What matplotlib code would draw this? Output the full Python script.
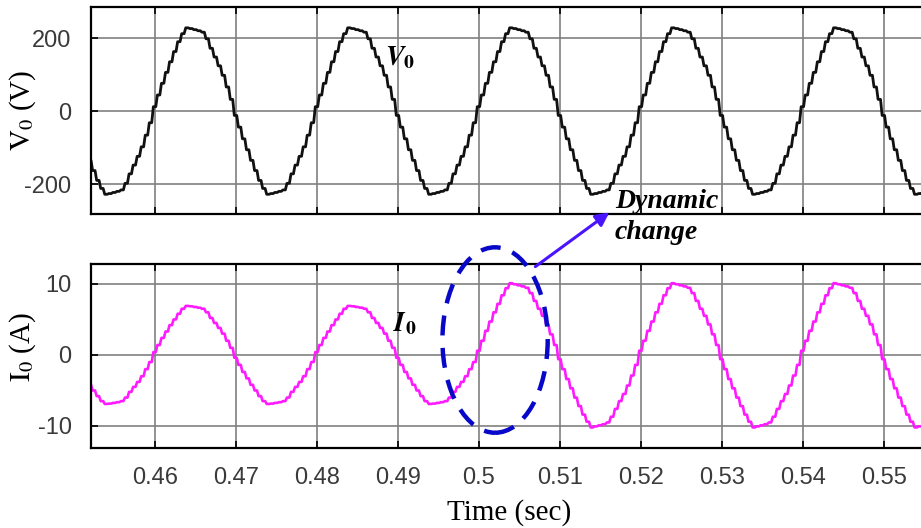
import matplotlib.pyplot as plt
import numpy as np
from matplotlib.patches import Ellipse

plt.rcParams['axes.unicode_minus'] = False
plt.rcParams['mathtext.fontset'] = 'stix'

# one period of the waveforms, sampled every 0.5 ms from the rising zero crossing
cycle_ms = [0.0, 0.5, 1.0, 1.5, 2.0, 2.5, 3.0, 3.5, 4.0, 4.5,
            5.0, 5.5, 6.0, 6.5, 7.0, 7.5, 8.0, 8.5, 9.0, 9.5,
            10.0, 10.5, 11.0, 11.5, 12.0, 12.5, 13.0, 13.5, 14.0, 14.5,
            15.0, 15.5, 16.0, 16.5, 17.0, 17.5, 18.0, 18.5, 19.0, 19.5]
v_cycle = [12, 44, 76, 106, 135, 163, 190, 212, 228, 226,
           223, 220, 216, 198, 172, 148, 124, 98, 66, 32,
           -12, -44, -76, -106, -135, -163, -190, -212, -228, -226,
           -223, -220, -216, -198, -172, -148, -124, -98, -66, -32]
i_cycle_low = [0.4, 1.4, 2.4, 3.3, 4.2, 5.0, 5.8, 6.5, 6.9, 6.85,
               6.75, 6.65, 6.5, 6.0, 5.2, 4.5, 3.8, 3.0, 2.0, 1.0,
               -0.4, -1.4, -2.4, -3.3, -4.2, -5.0, -5.8, -6.5, -6.9, -6.85,
               -6.75, -6.65, -6.5, -6.0, -5.2, -4.5, -3.8, -3.0, -2.0, -1.0]
i_cycle_high = [0.6, 2.0, 3.4, 4.7, 6.0, 7.2, 8.4, 9.4, 10.1, 9.95,
                9.8, 9.65, 9.45, 8.7, 7.6, 6.5, 5.5, 4.3, 2.9, 1.4,
                -0.6, -2.0, -3.4, -4.7, -6.0, -7.2, -8.4, -9.4, -10.2, -10.05,
                -9.9, -9.75, -9.5, -8.7, -7.6, -6.5, -5.5, -4.3, -2.9, -1.4]

cycle_start = [0.4398, 0.4598, 0.4798, 0.4998, 0.5198, 0.5398]
cycle_load = ['low', 'low', 'low', 'high', 'high', 'high']

x_ticks = [0.46, 0.47, 0.48, 0.49, 0.5, 0.51, 0.52, 0.53, 0.54, 0.55]
x_ticklabels = ['0.46', '0.47', '0.48', '0.49', '0.5', '0.51', '0.52', '0.53', '0.54', '0.55']
v_ticks = [-200, 0, 200]
i_ticks = [-10, 0, 10]

t = []
v = []
i = []
for s, load in zip(cycle_start, cycle_load):
    t += [s + m / 1000 for m in cycle_ms]
    v += v_cycle
    i += i_cycle_low if load == 'low' else i_cycle_high
t = np.array(t)
v = np.array(v)
i = np.array(i)

# each sample is held for 0.3 ms, then the line slants to the next level
hold = 0.0003
ts = np.column_stack([t, t + hold]).ravel()
vs = np.repeat(v, 2)
is_ = np.repeat(i, 2)

fig = plt.figure(figsize=(9.21, 5.28), dpi=100)
ax1 = fig.add_axes([0.0988, 0.5947, 0.9012, 0.392])
ax2 = fig.add_axes([0.0988, 0.1515, 0.9012, 0.3485])

xlim = (0.4521, 0.5546)
tick_font = {'family': 'Liberation Sans', 'size': 17, 'color': '#3a3a3a'}

for ax in (ax1, ax2):
    ax.set_xlim(xlim)
    ax.set_xticks(x_ticks)
    ax.grid(True, color='#808080', linewidth=1.2)
    ax.tick_params(direction='in', length=5, width=1.2, top=True, right=False,
                   colors='black', labelcolor='#3a3a3a', pad=14)
    for side in ('left', 'top', 'bottom'):
        ax.spines[side].set_linewidth(1.6)
    ax.spines['right'].set_visible(False)

ax1.plot(ts, vs, color='#111111', linewidth=2.0)
ax1.set_ylim(-282, 285)
ax1.set_yticks(v_ticks)
ax1.set_yticklabels([str(k) for k in v_ticks], fontdict=tick_font)
ax1.set_xticklabels([])
ax1.set_ylabel(r'$\mathrm{V}_0$ (V)', family='Liberation Serif', fontsize=21)
ax1.yaxis.set_label_coords(-0.064, 0.5)
ax1.text(0.4903, 148, r'$\mathbfit{V}_\mathbf{0}$', fontsize=20, ha='center', va='center')

ax2.plot(ts, is_, color='#ff1aff', linewidth=1.9)
ax2.set_ylim(-13.1, 12.8)
ax2.set_yticks(i_ticks)
ax2.set_yticklabels([str(k) for k in i_ticks], fontdict=tick_font)
ax2.set_xticklabels(x_ticklabels, fontdict=tick_font)
ax2.set_ylabel(r'$\mathrm{I}_0$ (A)', family='Liberation Serif', fontsize=21)
ax2.yaxis.set_label_coords(-0.064, 0.55)
ax2.text(0.4909, 4.5, r'$\mathbfit{I}_\mathbf{0}$', fontsize=20, ha='center', va='center')

# dynamic change marker
ell = Ellipse((0.5020, 2.1), 0.0130, 26.1, fill=False, edgecolor='#0808c8',
              linewidth=3.2, linestyle=(0, (4.5, 2.8)), clip_on=False, zorder=5)
ax2.add_patch(ell)
ax2.annotate('', xy=(0.5164, 20.3), xytext=(0.5067, 12.2), annotation_clip=False,
             arrowprops=dict(arrowstyle='-|>,head_length=0.8,head_width=0.4',
                             color='#4a14ff', linewidth=2.2))
fig.text(615 / 921, 1 - 217 / 528, 'Dynamic\nchange', family='Liberation Serif',
         weight='bold', style='italic', fontsize=20, ha='left', va='center',
         linespacing=1.3)

fig.text(509 / 921, 1 - 513 / 528, 'Time (sec)', family='Liberation Serif',
         fontsize=21, ha='center', va='center')

fig.savefig('out.png', dpi=100)
